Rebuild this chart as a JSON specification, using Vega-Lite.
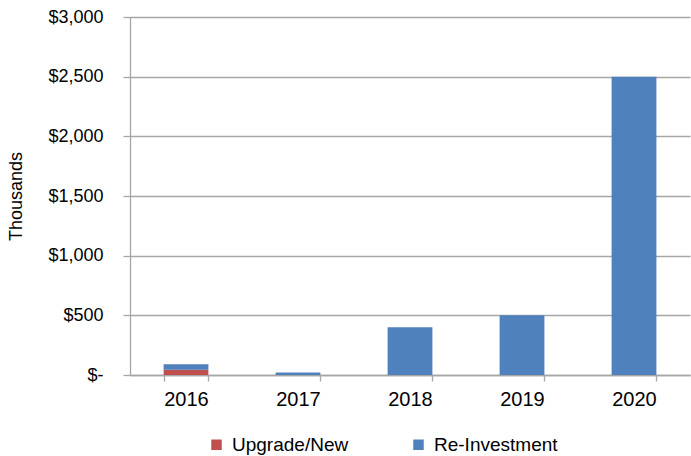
{
  "$schema": "https://vega.github.io/schema/vega-lite/v6.json",
  "width": 560,
  "height": 358,
  "autosize": {"type": "none"},
  "padding": {"left": 130, "top": 17, "right": 1, "bottom": 81},
  "background": "white",
  "data": {
    "values": [
      {"year": "2016", "category": "Upgrade/New", "ord": 1, "value": 45},
      {"year": "2016", "category": "Re-Investment", "ord": 2, "value": 45},
      {"year": "2017", "category": "Upgrade/New", "ord": 1, "value": 0},
      {"year": "2017", "category": "Re-Investment", "ord": 2, "value": 20},
      {"year": "2018", "category": "Upgrade/New", "ord": 1, "value": 0},
      {"year": "2018", "category": "Re-Investment", "ord": 2, "value": 400},
      {"year": "2019", "category": "Upgrade/New", "ord": 1, "value": 0},
      {"year": "2019", "category": "Re-Investment", "ord": 2, "value": 500},
      {"year": "2020", "category": "Upgrade/New", "ord": 1, "value": 0},
      {"year": "2020", "category": "Re-Investment", "ord": 2, "value": 2500}
    ]
  },
  "config": {
    "view": {"stroke": null},
    "font": "Liberation Sans"
  },
  "mark": {"type": "bar"},
  "encoding": {
    "x": {
      "field": "year",
      "type": "nominal",
      "scale": {"paddingInner": 0.6, "paddingOuter": 0.3},
      "axis": {
        "title": null,
        "labelAngle": 0,
        "labelFontSize": 20,
        "labelColor": "#000000",
        "labelPadding": 8,
        "tickBand": "extent",
        "tickSize": 6,
        "tickColor": "#a6a6a6",
        "tickWidth": 1.3,
        "domainColor": "#a6a6a6",
        "domainWidth": 1.3,
        "grid": false
      }
    },
    "y": {
      "field": "value",
      "type": "quantitative",
      "stack": "zero",
      "scale": {"domain": [0, 3000], "nice": false},
      "axis": {
        "title": "Thousands",
        "titleFontSize": 18,
        "titleFontWeight": "normal",
        "titleColor": "#000000",
        "titleX": -114,
        "titleY": 179,
        "titleAlign": "center",
        "titleBaseline": "middle",
        "titleAngle": -90,
        "values": [0, 500, 1000, 1500, 2000, 2500, 3000],
        "labelExpr": "datum.value == 0 ? '$-\u00a0\u00a0' : '$' + format(datum.value, ',')",
        "labelFontSize": 18,
        "labelColor": "#000000",
        "labelPadding": 20,
        "tickSize": 7,
        "tickColor": "#a6a6a6",
        "tickWidth": 1.3,
        "domainColor": "#a6a6a6",
        "domainWidth": 1.3,
        "grid": true,
        "gridColor": "#a6a6a6",
        "gridWidth": 1.3
      }
    },
    "color": {
      "field": "category",
      "type": "nominal",
      "scale": {"domain": ["Upgrade/New", "Re-Investment"], "range": ["#C0504D", "#4F81BD"]},
      "legend": {
        "title": null,
        "orient": "none",
        "direction": "horizontal",
        "legendX": 77,
        "legendY": 418,
        "symbolType": "square",
        "symbolSize": 110,
        "symbolStrokeWidth": 0,
        "labelFontSize": 19,
        "labelColor": "#000000",
        "labelOffset": 6,
        "columnPadding": 60
      }
    },
    "order": {"field": "ord", "type": "quantitative", "sort": "ascending"}
  }
}
